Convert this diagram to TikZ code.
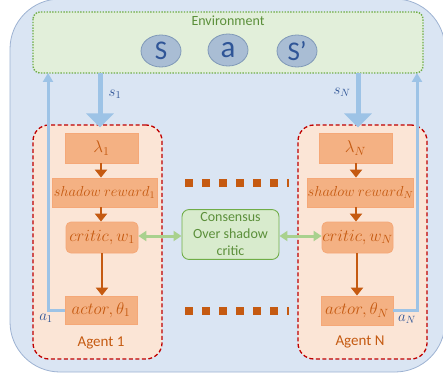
\RequirePackage{fix-cm}
\documentclass[tikz,border=0pt]{standalone}
\usepackage{fontspec}
\setmainfont{Carlito}
\usetikzlibrary{arrows.meta,shapes.geometric}

\definecolor{outerfill}{HTML}{DAE5F3}
\definecolor{outerline}{HTML}{9DB2D2}
\definecolor{envfill}{HTML}{E2EFDA}
\definecolor{envline}{HTML}{70AD47}
\definecolor{envtext}{HTML}{5B8F3A}
\definecolor{ellfill}{HTML}{A9BDD4}
\definecolor{ellline}{HTML}{8099B8}
\definecolor{darkblue}{HTML}{2F5597}
\definecolor{agentfill}{HTML}{FBE5D6}
\definecolor{agentline}{HTML}{C00000}
\definecolor{boxfill}{HTML}{F4B183}
\definecolor{boxline}{HTML}{F5A878}
\definecolor{rust}{HTML}{C55A11}
\definecolor{paleblue}{HTML}{9DC3E6}
\definecolor{consfill}{HTML}{D8EBCD}
\definecolor{palegreen}{HTML}{A9D18E}

\tikzset{
  envbox/.style={draw=envline, fill=envfill, line width=1.4pt,
    dash pattern=on 1.4pt off 1.4pt, rounded corners=7pt},
  token/.style={ellipse, draw=ellline, fill=ellfill, line width=0.8pt,
    minimum width=40pt, minimum height=32pt, inner sep=0pt, text=darkblue},
  agentbox/.style={draw=agentline, fill=agentfill, line width=1.3pt,
    dash pattern=on 4pt off 2.5pt, rounded corners=16pt,
    minimum width=129pt, minimum height=234pt},
  stepbox/.style={draw=boxline, fill=boxfill, line width=0.8pt, text=rust,
    inner sep=0pt, font=\fontsize{17}{19}\selectfont},
  consbox/.style={draw=envline, fill=consfill, line width=0.9pt,
    rounded corners=7pt, minimum width=97pt, minimum height=49pt,
    text=envtext, align=center, font=\fontsize{14}{17}\selectfont},
  obsarrow/.style={paleblue, line width=5pt,
    -{Triangle[width=27pt,length=14pt]}},
  actarrow/.style={paleblue, line width=3pt,
    -{Triangle[width=10pt,length=9pt]}},
  flowarrow/.style={rust, line width=2.6pt,
    -{Triangle[width=12pt,length=8pt]}},
  syncarrow/.style={palegreen, line width=3pt,
    {Triangle[width=10pt,length=8pt]}-{Triangle[width=10pt,length=8pt]}},
  blocks/.style={rust, line width=8pt, dash pattern=on 8pt off 9pt},
  lbl/.style={text=darkblue, font=\fontsize{15}{17}\selectfont},
}

\begin{document}
\begin{tikzpicture}[x=1pt, y=-1pt]
\useasboundingbox (0,0) rectangle (443,379);

% outer panel
\path[draw=outerline, fill=outerfill, line width=0.8pt, rounded corners=50pt]
  (10,-1) rectangle (445,372);

% environment
\draw[envbox] (33,12) rectangle (423,73);
\node[text=envtext, font=\fontsize{14}{16}\selectfont] (envlabel) at (228,21) {Environment};
\coordinate (envS) at (228,73);
\node[token, font=\fontsize{27}{28}\selectfont] (st) at (161,51) {S};
\node[token, font=\fontsize{31}{31}\selectfont] (ac) at (228,50) {a};
\node[token, font=\fontsize{27}{28}\selectfont] (sn) at (297,51) {S’};

% agent frames
\node[agentbox] (ag1) at (97.5,242) {};
\node[agentbox] (agN) at (362.5,242) {};
\node[text=rust, font=\fontsize{15}{17}\selectfont] (ag1lbl) at (101,343) {Agent 1};
\node[text=rust, font=\fontsize{15}{17}\selectfont] (agNlbl) at (360,342) {Agent N};

% agent 1 blocks
\node[stepbox, minimum width=73pt, minimum height=30pt] (lam1) at (101.5,148) {$\lambda_1$};
\node[stepbox, minimum width=105pt, minimum height=29pt, font=\fontsize{14.5}{16}\selectfont]
  (sh1) at (104.5,192.5) {$shadow\ reward_1$};
\node[stepbox, rounded corners=5pt, minimum width=72pt, minimum height=31pt]
  (cr1) at (102,237.5) {$critic,w_1$};
\node[stepbox, minimum width=72pt, minimum height=28pt] (act1) at (101,310) {$actor,\theta_1$};

% agent N blocks
\node[stepbox, minimum width=73pt, minimum height=30pt] (lamN) at (355.5,148) {$\lambda_N$};
\node[stepbox, minimum width=105pt, minimum height=29pt, font=\fontsize{14.5}{16}\selectfont]
  (shN) at (360.5,192.5) {$shadow\ reward_N$};
\node[stepbox, rounded corners=5pt, minimum width=71pt, minimum height=31pt]
  (crN) at (357.5,237.5) {$critic,w_N$};
\node[stepbox, minimum width=72pt, minimum height=29pt] (actN) at (357,310.5) {$actor,\theta_N$};

% consensus
\node[consbox] (cons) at (230.5,234.5) {Consensus\\Over shadow\\critic};

% internal flow
\draw[flowarrow] (lam1.south -| 101,0) -- (sh1.north -| 101,0);
\draw[flowarrow] (sh1.south -| 101,0) -- (cr1.north -| 101,0);
\draw[flowarrow] (cr1.south -| 102,0) -- (act1.north -| 102,0);
\draw[flowarrow] (lamN.south -| 356,0) -- (shN.north -| 356,0);
\draw[flowarrow] (shN.south -| 356,0) -- (crN.north -| 356,0);
\draw[flowarrow] (crN.south -| 357,0) -- (actN.north -| 357,0);

% consensus links
\draw[syncarrow] (cr1.east |- 0,236) -- (cons.west |- 0,236);
\draw[syncarrow] (cons.east |- 0,236) -- (crN.west |- 0,236);

% agents in between
\coordinate (dotsA) at (185,182.5);
\coordinate (dotsB) at (289,182.5);
\coordinate (dotsC) at (185,311);
\coordinate (dotsD) at (289,311);
\draw[blocks] (dotsA) -- (dotsB);
\draw[blocks] (dotsC) -- (dotsD);

% observations
\coordinate (s1x) at (100,0);
\coordinate (sNx) at (358,0);
\draw[obsarrow] (envS -| s1x) -- ([yshift=-3pt]ag1.north -| s1x);
\draw[obsarrow] (envS -| sNx) -- ([yshift=-3pt]agN.north -| sNx);
\node[lbl] (s1lbl) at (115,94) {$s_1$};
\node[lbl] (sNlbl) at (342,92) {$s_N$};

% actions
\coordinate (a1x) at (48,0);
\coordinate (aNx) at (417,0);
\draw[actarrow] (act1.west) -- (act1.west -| a1x) -- (envS -| a1x);
\draw[actarrow] (actN.east) -- (actN.east -| aNx) -- (envS -| aNx);
\node[lbl] (a1lbl) at (46,318) {$a_1$};
\node[lbl] (aNlbl) at (407,319) {$a_N$};
\end{tikzpicture}
\end{document}
